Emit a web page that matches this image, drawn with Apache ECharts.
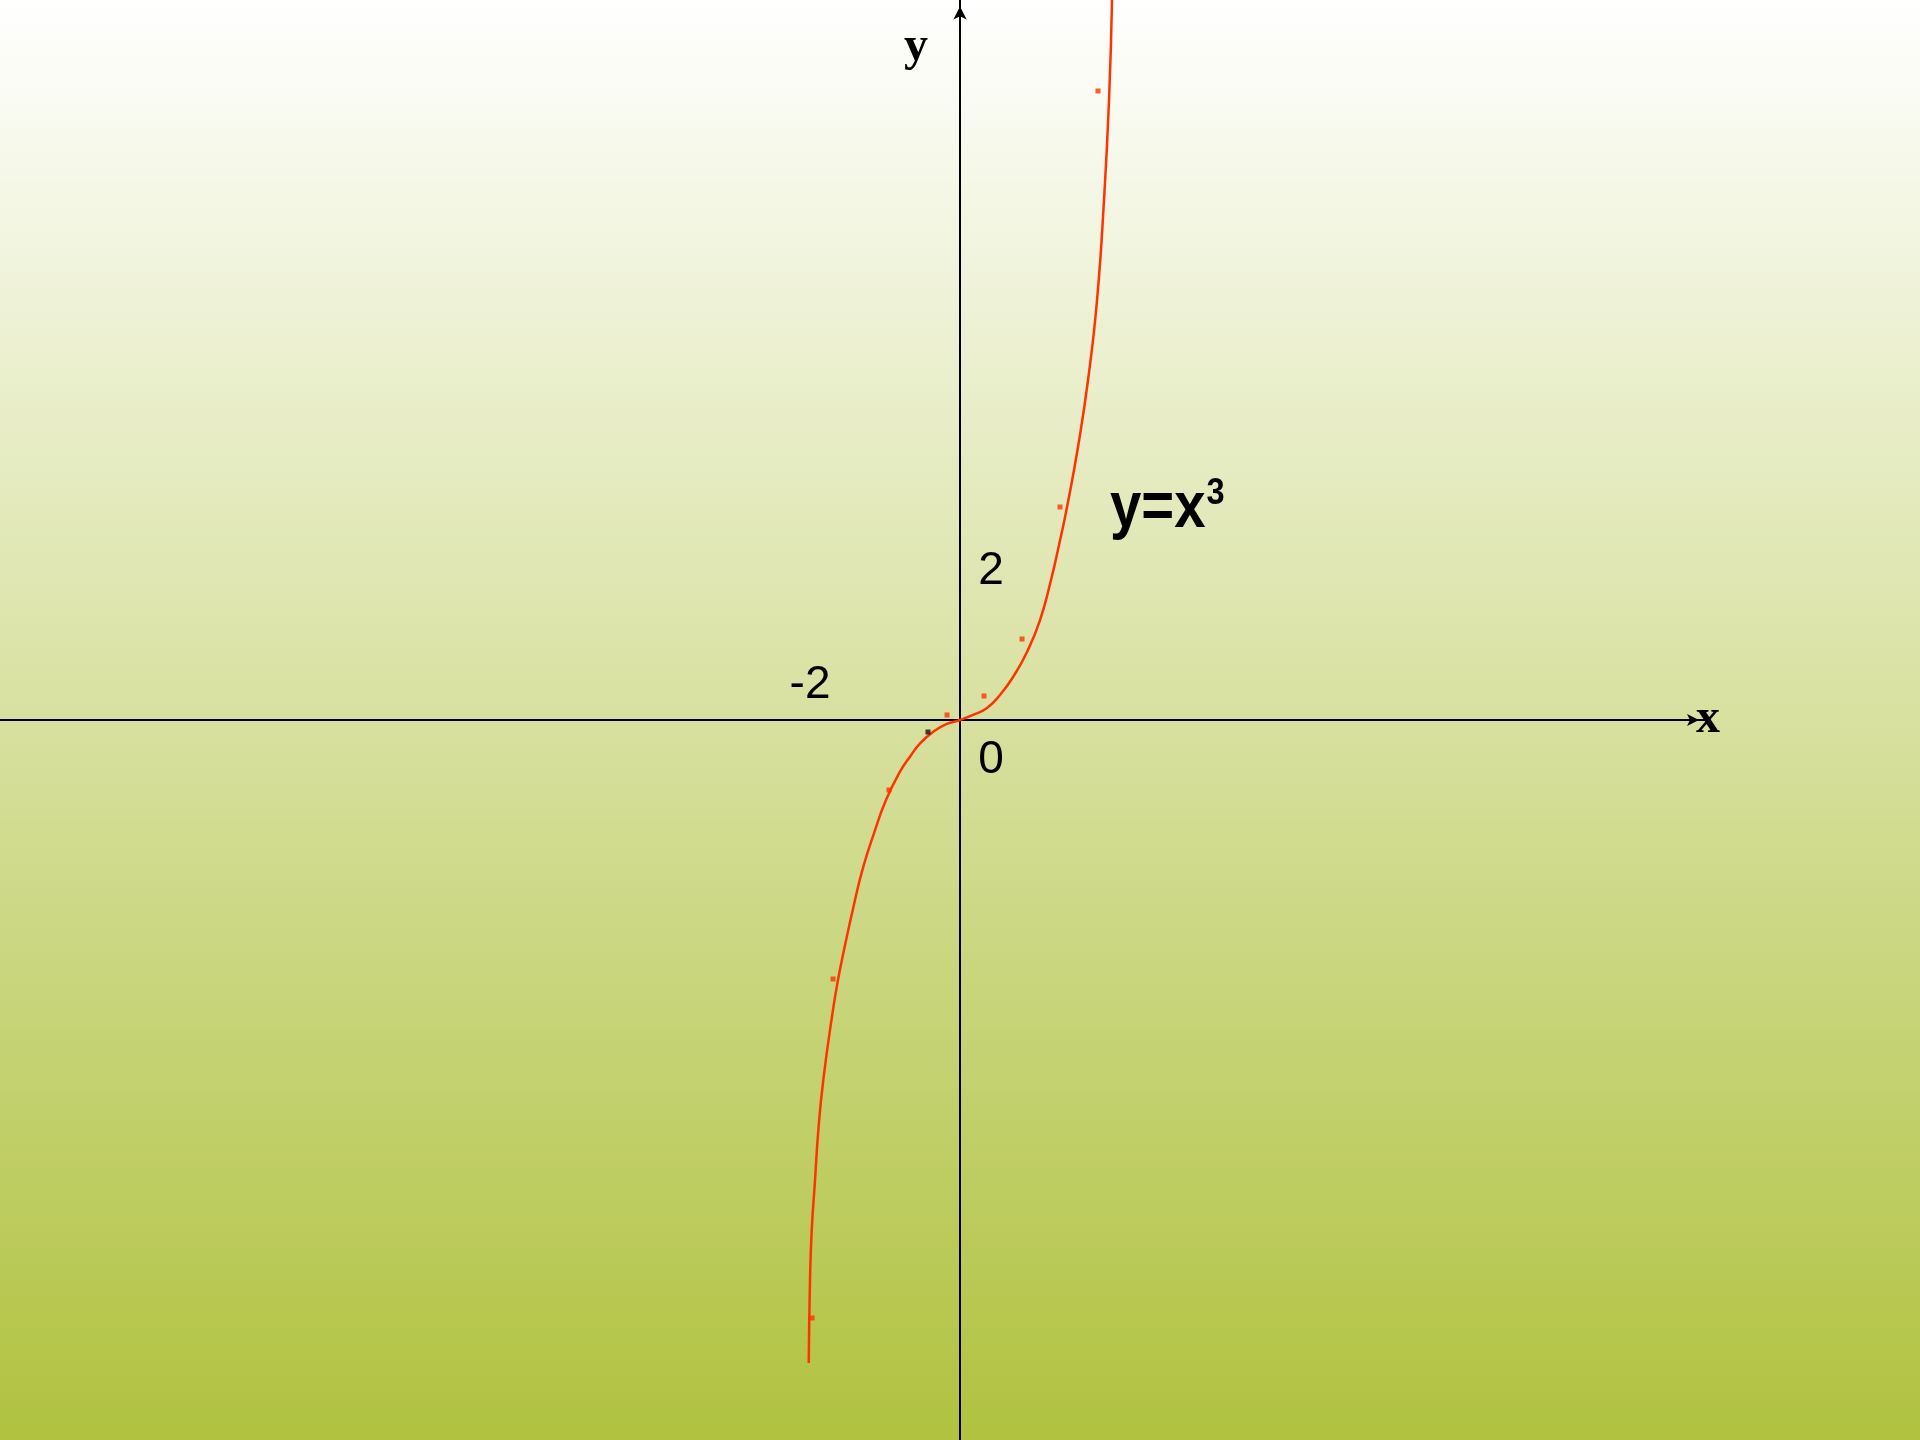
<!DOCTYPE html>
<html>
<head>
<meta charset="utf-8">
<script src="https://cdn.jsdelivr.net/npm/echarts@6/dist/echarts.min.js"></script>
<style>
html,body{margin:0;padding:0;background:#ffffff;}
#chart{width:1920px;height:1440px;}
</style>
</head>
<body>
<div id="chart"></div>
<script>
// Curve y = x^3 (x, y in axis units)
const curveX = [-2.017, -2.0, -1.977, -1.933, -1.889, -1.823, -1.7, -1.627, -1.556, -1.4, -1.289, -1.147, -0.987, -0.8, -0.667, -0.533, -0.356, -0.177, 0,
                0.173, 0.36, 0.533, 0.707, 0.893, 1.067, 1.213, 1.32, 1.427, 1.573, 1.707, 1.827, 1.92, 1.987, 2.027];
const curveY = [-8.573, -7.467, -6.8, -6.133, -5.467, -4.8, -3.907, -3.467, -3.111, -2.4, -1.956, -1.511, -1.067, -0.689, -0.489, -0.311, -0.156, -0.053, 0,
                0.067, 0.16, 0.333, 0.573, 0.907, 1.333, 1.867, 2.333, 2.84, 3.64, 4.533, 5.6, 6.933, 8.267, 9.6];

// Small square markers
const redDotX = [1.84, 1.333, 0.827, 0.32, -0.173, -0.947, -1.693, -1.973];
const redDotY = [8.387, 2.84, 1.08, 0.32, 0.067, -0.933, -3.453, -7.973];
const blackDotX = [-0.427];
const blackDotY = [-0.16];

// Tick labels shown (text and the axis value they belong to)
const tickLabelText = ['2', '0', '-2'];
const tickLabelX = [0, 0, -2];
const tickLabelY = [2, 0, 0];

const zip = (xs, ys) => xs.map((x, i) => [x, ys[i]]);
const tickLabelOffsets = [[31, 1], [31, 40], [0, -35]];

const chart = echarts.init(document.getElementById('chart'), null, {renderer: 'canvas'});
chart.setOption({
  animation: false,
  backgroundColor: {
    type: 'linear', x: 0, y: 0, x2: 0, y2: 1,
    colorStops: [{offset: 0, color: '#ffffff'}, {offset: 1, color: '#b0c23f'}]
  },
  grid: {left: 0, right: 215, top: 0, bottom: 0},
  xAxis: {
    type: 'value', min: -12.8, max: 9.933,
    name: 'x', nameLocation: 'end', nameGap: 3,
    nameTextStyle: {
      fontFamily: 'Liberation Serif', fontWeight: 'bold', fontSize: 48, color: '#000',
      align: 'center', verticalAlign: 'middle', padding: [0, 0, 24, 0]
    },
    axisLine: {
      onZero: true, lineStyle: {color: '#000', width: 2},
      symbol: ['none', 'arrow'], symbolSize: [9, 12], symbolOffset: [0, -6]
    },
    axisTick: {show: false},
    splitLine: {show: false},
    axisLabel: {show: false}
  },
  yAxis: {
    type: 'value', min: -9.6, max: 9.6,
    name: 'y', nameLocation: 'end', nameGap: -72,
    nameTextStyle: {
      fontFamily: 'Liberation Serif', fontWeight: 'bold', fontSize: 48, color: '#000',
      align: 'right', verticalAlign: 'bottom', padding: [0, 32, 0, 0]
    },
    axisLine: {
      onZero: true, lineStyle: {color: '#000', width: 2},
      symbol: ['none', 'arrow'], symbolSize: [10, 13], symbolOffset: [0, -6.5]
    },
    axisTick: {show: false},
    splitLine: {show: false},
    axisLabel: {show: false}
  },
  graphic: [{
    type: 'text', x: 1110, y: 475, scaleX: 0.88, scaleY: 1,
    style: {
      text: '{a|y=x}{s|3}', align: 'left', verticalAlign: 'top',
      rich: {
        a: {fontFamily: 'Liberation Sans', fontWeight: 'bold', fontSize: 64, lineHeight: 64, fill: '#000'},
        s: {fontFamily: 'Liberation Sans', fontWeight: 'bold', fontSize: 37, lineHeight: 68, fill: '#000', verticalAlign: 'top', padding: [0, 0, 0, 1]}
      }
    }
  }],
  series: [
    {
      type: 'line', data: zip(curveX, curveY), smooth: 0.5, symbol: 'none',
      lineStyle: {color: '#ff3300', width: 2.5}, z: 2
    },
    {
      type: 'scatter', data: zip(redDotX, redDotY), symbol: 'rect', symbolSize: 5,
      itemStyle: {color: '#ff3300'}, z: 3
    },
    {
      type: 'scatter', data: zip(blackDotX, blackDotY), symbol: 'rect', symbolSize: 5,
      itemStyle: {color: '#111111'}, z: 3
    },
    {
      type: 'scatter', symbolSize: 0, silent: true, z: 4,
      data: tickLabelText.map((t, i) => ({
        value: [tickLabelX[i], tickLabelY[i]],
        label: {
          show: true, position: [0, 0], formatter: t, offset: tickLabelOffsets[i],
          fontFamily: 'Liberation Sans', fontSize: 46, color: '#000000', opacity: 1,
          textBorderWidth: 0, align: 'center', verticalAlign: 'middle'
        }
      }))
    }
  ]
});
</script>
</body>
</html>
